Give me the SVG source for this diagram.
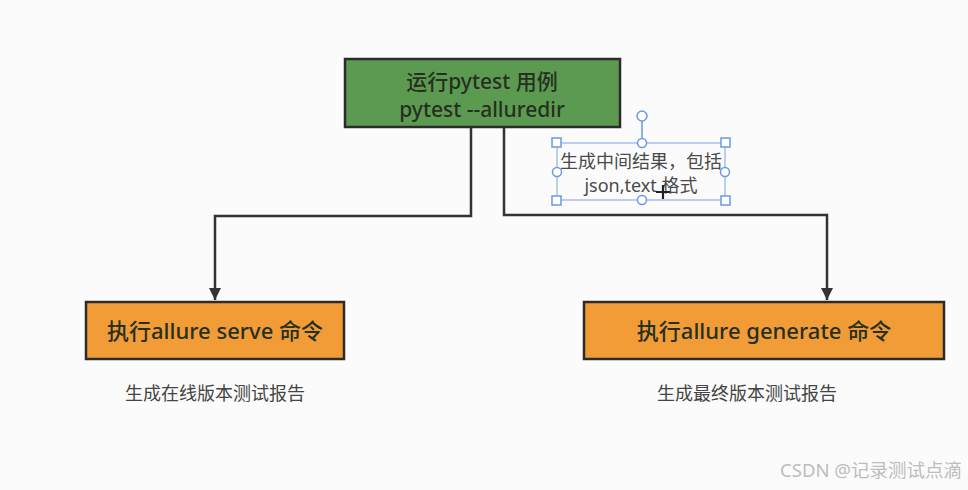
<svg xmlns="http://www.w3.org/2000/svg" width="968" height="490" viewBox="0 0 968 490">
<defs>
<style>
.box{stroke:#2b2b2b;stroke-width:2.5}
.green{fill:#5c9a52}
.orange{fill:#f29c38}
.t{font-family:"Noto Sans","Noto Sans CJK SC",sans-serif;text-anchor:middle}
.lbl{font-size:22px;font-weight:500;fill:#25301f}
.top{font-size:21px}
.cap{font-family:"Noto Sans CJK SC",sans-serif;font-size:18px;fill:#444}
.note{font-size:18px;fill:#4a4a4a}
.conn{fill:none;stroke:#333;stroke-width:2.5}
.sel{fill:none;stroke:#8fb2e6;stroke-width:1.2}
.hnd{fill:#fff;stroke:#6a9ae0;stroke-width:1.5}
</style>
<marker id="arr" viewBox="0 0 10 10" refX="10" refY="5" markerWidth="5" markerHeight="5" orient="auto" markerUnits="strokeWidth">
<path d="M0,0 L10,5 L0,10 z" fill="#333"/>
</marker>
</defs>
<rect width="968" height="490" fill="#fbfbfb"/>
<g id="connectors">
<path class="conn" d="M471,128 V216 H215 V300" marker-end="url(#arr)"/>
<path class="conn" d="M504,128 V215 H827 V300" marker-end="url(#arr)"/>
</g>
<g id="node-run">
<rect class="box green" x="345" y="59" width="275" height="68"/>
<text class="t lbl top" x="482" y="89">运行pytest 用例</text>
<text class="t lbl top" x="482" y="117">pytest --alluredir</text>
</g>
<g id="note-intermediate">
<line x1="642" y1="121" x2="642" y2="143" stroke="#6a9ae0" stroke-width="1.5"/>
<rect class="sel" x="557" y="143" width="168" height="57"/>
<text class="t note" x="641" y="168">生成中间结果，包括</text>
<text class="t note" x="641" y="192">json,text 格式</text>
<circle class="hnd" cx="642" cy="116" r="5"/>
<rect class="hnd" x="552" y="138" width="9" height="9"/>
<rect class="hnd" x="721" y="138" width="9" height="9"/>
<rect class="hnd" x="552" y="196" width="9" height="9"/>
<rect class="hnd" x="721" y="196" width="9" height="9"/>
<circle class="hnd" cx="642" cy="143" r="4.5"/>
<circle class="hnd" cx="642" cy="200" r="4.5"/>
<circle class="hnd" cx="557" cy="172" r="4.5"/>
<circle class="hnd" cx="725" cy="172" r="4.5"/>
<path d="M663,185 V199 M656,192 H670" stroke="#222" stroke-width="2.2"/>
</g>
<g id="node-serve">
<rect class="box orange" x="86" y="302" width="258" height="57"/>
<text class="t lbl" x="215" y="339">执行allure serve 命令</text>
<text class="t cap" x="215" y="400">生成在线版本测试报告</text>
</g>
<g id="node-generate">
<rect class="box orange" x="584" y="302" width="360" height="57"/>
<text class="t lbl" x="764" y="339">执行allure generate 命令</text>
<text class="t cap" x="747" y="400">生成最终版本测试报告</text>
</g>
<text class="t" x="871" y="477" font-size="18.5" fill="#bdbdbd">CSDN @记录测试点滴</text>
</svg>
